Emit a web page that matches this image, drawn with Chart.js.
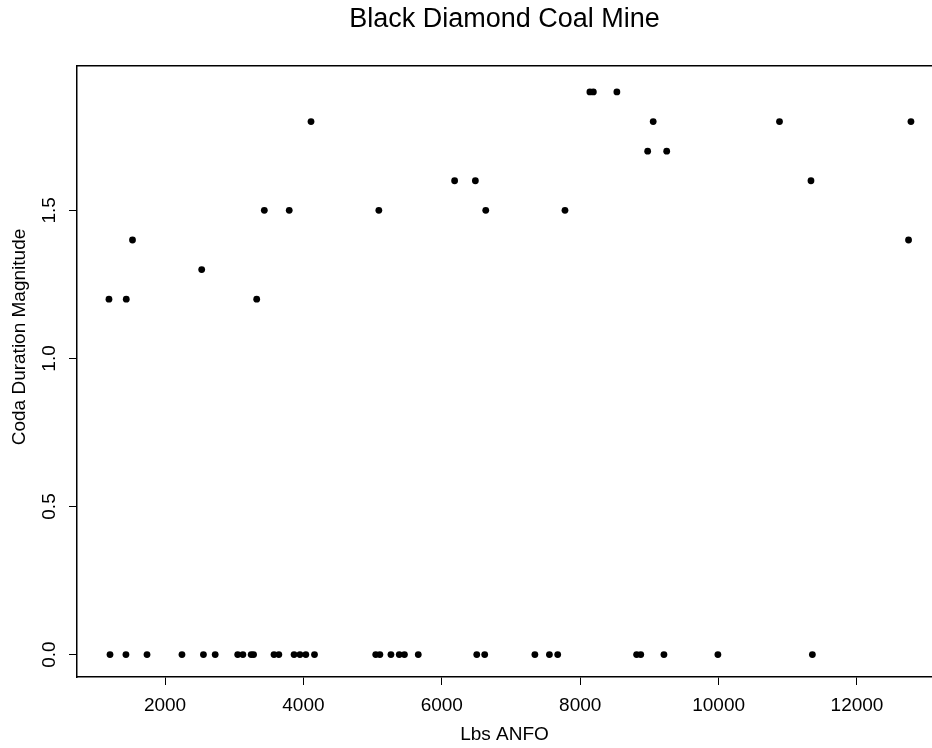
<!DOCTYPE html>
<html>
<head>
<meta charset="utf-8">
<title>Black Diamond Coal Mine</title>
<script src="https://cdn.jsdelivr.net/npm/chart.js@4.4.1/dist/chart.umd.min.js"></script>
<style>
  body { margin: 0; background: #fff; }
  canvas { display: block; }
</style>
</head>
<body>
<canvas id="mineChart" width="932" height="748"></canvas>
<script>
// blasts: explosive charge (lbs ANFO) and coda duration magnitude
const lbsAnfo = [
  1190, 1440, 1530, 2530, 3325, 3435, 3795, 4110, 5090, 6185, 6485, 6635,
  7780, 8140, 8190, 8530, 8975, 9055, 9250, 10880, 11335, 12745, 12780,
  1205, 1435, 1740, 2245, 2555, 2725, 3050, 3125, 3245, 3280, 3575, 3645,
  3865, 3950, 4035, 4160, 5045, 5105, 5265, 5385, 5460, 5660, 6505, 6620,
  7345, 7555, 7675, 8815, 8875, 9210, 9990, 11355
]
const magnitude = [
  1.2, 1.2, 1.4, 1.3, 1.2, 1.5, 1.5, 1.8, 1.5, 1.6, 1.6, 1.5,
  1.5, 1.9, 1.9, 1.9, 1.7, 1.8, 1.7, 1.8, 1.6, 1.4, 1.8,
  0, 0, 0, 0, 0, 0, 0, 0, 0, 0, 0, 0,
  0, 0, 0, 0, 0, 0, 0, 0, 0, 0, 0, 0,
  0, 0, 0, 0, 0, 0, 0, 0
]
const xTicks = [2000, 4000, 6000, 8000, 10000, 12000]
const yTicks = [0, 0.5, 1.0, 1.5]

const font = "'Liberation Sans', Arial, Helvetica, sans-serif"
Chart.defaults.color = '#000'
Chart.defaults.font.family = font

const points = lbsAnfo.map((x, i) => ({ x: x, y: magnitude[i] }))

// R style rotated y label, sits a bit above the middle of the box in the scan
const yLabel = {
  id: 'yLabel',
  afterDraw(chart) {
    const ctx = chart.ctx
    ctx.save()
    ctx.translate(20, 337)
    ctx.rotate(-Math.PI / 2)
    ctx.font = '19px ' + font
    ctx.fillStyle = '#000'
    ctx.textAlign = 'center'
    ctx.textBaseline = 'middle'
    ctx.fillText('Coda Duration Magnitude', 0, 0)
    ctx.restore()
  }
}

new Chart(document.getElementById('mineChart'), {
  type: 'scatter',
  data: {
    datasets: [{
      label: 'Blasts',
      data: points,
      backgroundColor: '#000',
      borderWidth: 0,
      pointRadius: 3.4,
      pointHoverRadius: 3.4
    }]
  },
  options: {
    responsive: false,
    animation: false,
    // the box runs off the right edge of the scan
    layout: { padding: 0, autoPadding: false },
    plugins: {
      legend: { display: false },
      tooltip: { enabled: false },
      title: {
        display: true,
        text: 'Black Diamond Coal Mine',
        fullSize: false,
        color: '#000',
        font: { size: 27, weight: 'normal' },
        padding: { top: 3, bottom: 30.6 }
      }
    },
    scales: {
      x: {
        type: 'linear',
        min: 728,
        max: 13084,
        afterBuildTicks: (axis) => { axis.ticks = xTicks.map(v => ({ value: v })) },
        afterFit: (axis) => { axis.height = 71 },
        ticks: {
          font: { size: 19 },
          padding: 9,
          maxRotation: 0,
          callback: (v) => String(v)
        },
        grid: {
          drawOnChartArea: false,
          tickLength: 8,
          color: '#000'
        },
        border: { color: '#000', width: 1.5 },
        title: {
          display: true,
          text: 'Lbs ANFO',
          font: { size: 19 },
          padding: { top: 0, bottom: 2 }
        }
      },
      xTop: {
        type: 'linear',
        position: 'top',
        min: 728,
        max: 13084,
        afterFit: (axis) => { axis.height = 0 },
        ticks: { display: false },
        grid: { display: false, drawTicks: false },
        border: { color: '#000', width: 1.5 }
      },
      y: {
        type: 'linear',
        min: -0.0757,
        max: 1.9875,
        afterBuildTicks: (axis) => { axis.ticks = yTicks.map(v => ({ value: v })) },
        afterFit: (axis) => { axis.width = 77 },
        ticks: {
          font: { size: 19 },
          padding: 6,
          minRotation: 90,
          maxRotation: 90,
          crossAlign: 'center',
          callback: (v) => Number(v).toFixed(1)
        },
        grid: {
          drawOnChartArea: false,
          tickLength: 8,
          color: '#000'
        },
        border: { color: '#000', width: 1.5 }
      }
    }
  },
  plugins: [yLabel]
})
</script>
</body>
</html>
